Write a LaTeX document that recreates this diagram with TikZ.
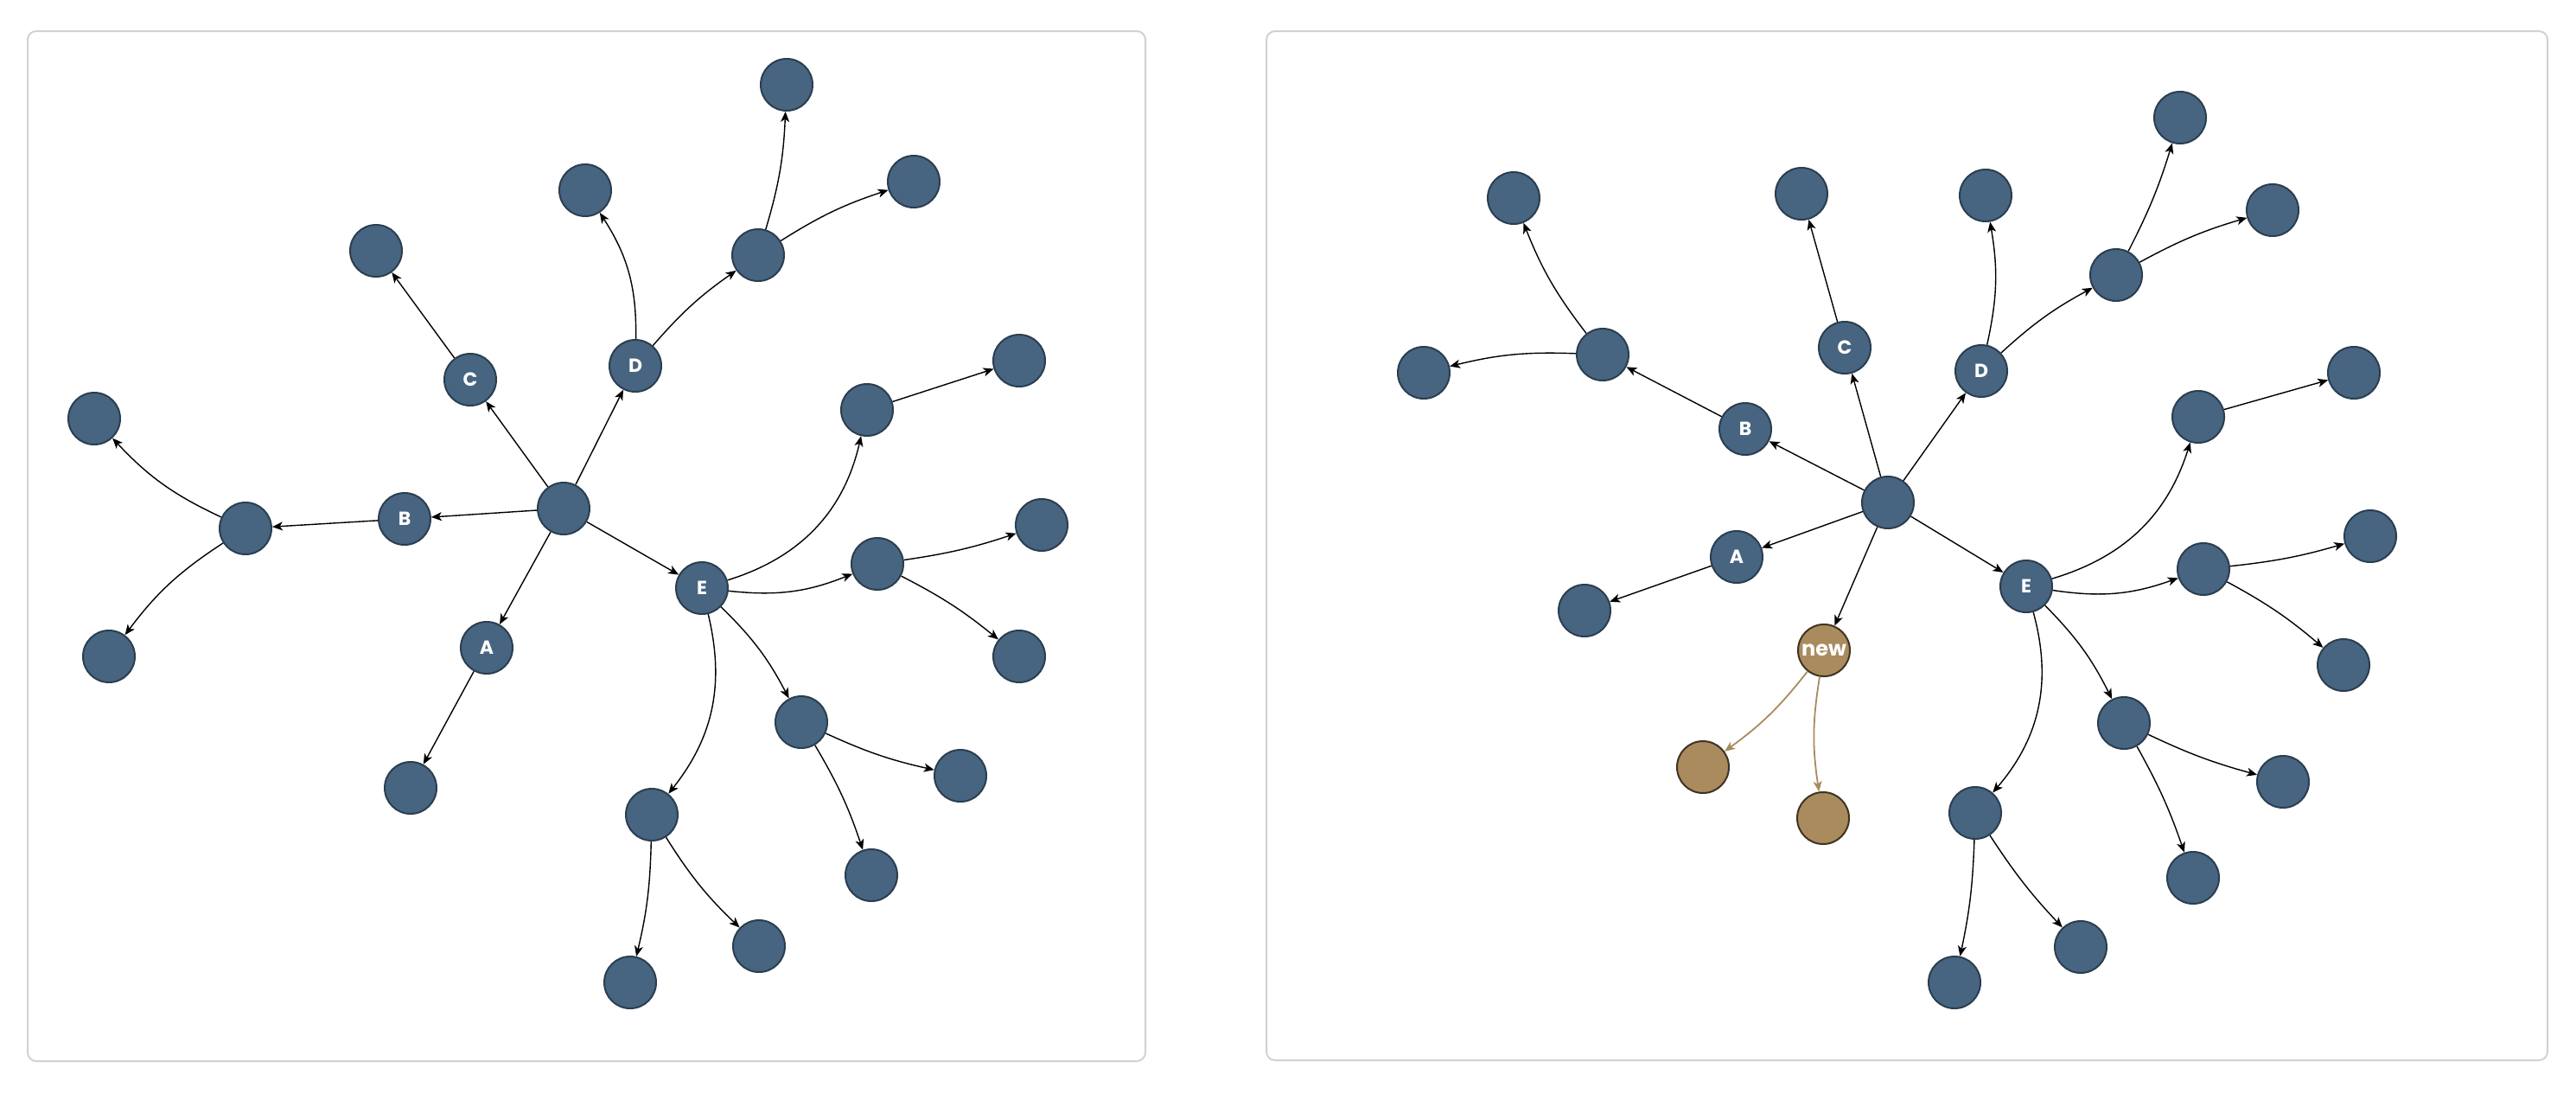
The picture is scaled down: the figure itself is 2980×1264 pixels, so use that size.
\documentclass[tikz,border=0pt]{standalone}
\usepackage{fontspec}
\setmainfont{Poppins}
\usetikzlibrary{arrows.meta}
\definecolor{nodefill}{HTML}{476580}
\definecolor{nodeline}{HTML}{2B3E50}
\definecolor{newfill}{HTML}{A98B5E}
\definecolor{newline}{HTML}{3F3323}
\definecolor{newedge}{HTML}{A98B5E}
\definecolor{panelline}{HTML}{D2D2D2}
\tikzset{
  vtx/.style={circle, fill=nodefill, draw=nodeline, line width=1pt, minimum size=30pt, inner sep=0pt,
    text=white, font=\fontsize{11}{13}\selectfont\bfseries},
  newvtx/.style={vtx, fill=newfill, draw=newline, font=\fontsize{12}{14}\selectfont\bfseries},
  edge/.style={draw=black, line width=0.7pt, -{Stealth[length=6pt,width=5pt,inset=1.6pt]}},
  newedgestyle/.style={draw=newedge, line width=0.9pt, -{Stealth[length=6pt,width=5pt,inset=1.6pt]}},
  panel/.style={draw=panelline, line width=1pt, rounded corners=5pt},
}
\begin{document}
\begin{tikzpicture}[x=0.5pt, y=-0.5pt]
\useasboundingbox (0,0) rectangle (2980,1264);
\draw[panel] (32,36) rectangle (1325,1227);
\draw[panel] (1465,36) rectangle (2947,1226);

% ---------- left panel ----------
\node[vtx] (L0) at (652,588) {};
\node[vtx] (LB) at (468,600) {B};
\node[vtx] (LC) at (544,439) {C};
\node[vtx] (LD) at (735,423) {D};
\node[vtx] (LA) at (563,749) {A};
\node[vtx] (LE) at (812,680) {E};
\node[vtx] (LB1) at (284,611) {};
\node[vtx] (LB1a) at (109,484) {};
\node[vtx] (LB1b) at (126,759) {};
\node[vtx] (LC1) at (435,290) {};
\node[vtx] (LD1) at (677,220) {};
\node[vtx] (LD2) at (877,295) {};
\node[vtx] (LD2a) at (910,98) {};
\node[vtx] (LD2b) at (1057,210) {};
\node[vtx] (LA1) at (475,911) {};
\node[vtx] (LE1) at (1003,474) {};
\node[vtx] (LE1a) at (1179,417) {};
\node[vtx] (LE2) at (1015,652) {};
\node[vtx] (LE2a) at (1205,607) {};
\node[vtx] (LE2b) at (1179,759) {};
\node[vtx] (LE3) at (927,835) {};
\node[vtx] (LE3a) at (1111,897) {};
\node[vtx] (LE3b) at (1008,1012) {};
\node[vtx] (LE4) at (754,942) {};
\node[vtx] (LE4a) at (729,1136) {};
\node[vtx] (LE4b) at (878,1094) {};

\draw[edge] (L0) -- (LB);
\draw[edge] (LB) -- (LB1);
\draw[edge] (LB1) to[bend left=11] (LB1a);
\draw[edge] (LB1) to[bend right=10] (LB1b);
\draw[edge] (L0) -- (LC);
\draw[edge] (LC) -- (LC1);
\draw[edge] (L0) -- (LD);
\draw[edge] (LD) to[bend right=17] (LD1);
\draw[edge] (LD) to[bend left=7] (LD2);
\draw[edge] (LD2) to[bend right=7] (LD2a);
\draw[edge] (LD2) to[bend left=7] (LD2b);
\draw[edge] (L0) -- (LA);
\draw[edge] (LA) -- (LA1);
\draw[edge] (L0) -- (LE);
\draw[edge] (LE) to[bend right=30] (LE1);
\draw[edge] (LE) to[bend right=14] (LE2);
\draw[edge] (LE) to[bend left=9] (LE3);
\draw[edge] (LE) to[bend left=26] (LE4);
\draw[edge] (LE1) -- (LE1a);
\draw[edge] (LE2) to[bend right=5] (LE2a);
\draw[edge] (LE2) to[bend left=6] (LE2b);
\draw[edge] (LE3) to[bend right=6] (LE3a);
\draw[edge] (LE3) to[bend left=6] (LE3b);
\draw[edge] (LE4) to[bend left=6] (LE4a);
\draw[edge] (LE4) to[bend right=7] (LE4b);

% ---------- right panel ----------
\node[vtx] (R0) at (2184,581) {};
\node[vtx] (RB) at (2019,496) {B};
\node[vtx] (RC) at (2134,402) {C};
\node[vtx] (RD) at (2292,429) {D};
\node[vtx] (RA) at (2009,644) {A};
\node[vtx] (RE) at (2344,678) {E};
\node[newvtx] (RN) at (2110,752) {new};
\node[newvtx] (RN1) at (1970,887) {};
\node[newvtx] (RN2) at (2109,946) {};
\node[vtx] (RB1) at (1854,410) {};
\node[vtx] (RB1a) at (1751,229) {};
\node[vtx] (RB1b) at (1647,431) {};
\node[vtx] (RC1) at (2084,224) {};
\node[vtx] (RA1) at (1833,706) {};
\node[vtx] (RD1) at (2297,226) {};
\node[vtx] (RD2) at (2448,318) {};
\node[vtx] (RD2a) at (2522,136) {};
\node[vtx] (RD2b) at (2629,243) {};
\node[vtx] (RE1) at (2543,482) {};
\node[vtx] (RE1a) at (2723,431) {};
\node[vtx] (RE2) at (2549,658) {};
\node[vtx] (RE2a) at (2742,620) {};
\node[vtx] (RE2b) at (2711,769) {};
\node[vtx] (RE3) at (2457,836) {};
\node[vtx] (RE3a) at (2641,904) {};
\node[vtx] (RE3b) at (2537,1015) {};
\node[vtx] (RE4) at (2285,940) {};
\node[vtx] (RE4a) at (2261,1136) {};
\node[vtx] (RE4b) at (2407,1095) {};

\draw[edge] (R0) -- (RB);
\draw[edge] (RB) -- (RB1);
\draw[edge] (RB1) to[bend left=8] (RB1a);
\draw[edge] (RB1) to[bend right=8] (RB1b);
\draw[edge] (R0) -- (RC);
\draw[edge] (RC) -- (RC1);
\draw[edge] (R0) -- (RA);
\draw[edge] (RA) -- (RA1);
\draw[edge] (R0) -- (RD);
\draw[edge] (RD) to[bend right=11] (RD1);
\draw[edge] (RD) to[bend left=7] (RD2);
\draw[edge] (RD2) to[bend right=5] (RD2a);
\draw[edge] (RD2) to[bend left=6] (RD2b);
\draw[edge] (R0) -- (RE);
\draw[edge] (RE) to[bend right=28] (RE1);
\draw[edge] (RE) to[bend right=14] (RE2);
\draw[edge] (RE) to[bend left=9] (RE3);
\draw[edge] (RE) to[bend left=28] (RE4);
\draw[edge] (RE1) -- (RE1a);
\draw[edge] (RE2) to[bend right=5] (RE2a);
\draw[edge] (RE2) to[bend left=6] (RE2b);
\draw[edge] (RE3) to[bend right=5] (RE3a);
\draw[edge] (RE3) to[bend left=5] (RE3b);
\draw[edge] (RE4) to[bend left=5] (RE4a);
\draw[edge] (RE4) to[bend right=5] (RE4b);
\draw[edge] (R0) -- (RN);
\draw[newedgestyle] (RN) to[bend left=8] (RN1);
\draw[newedgestyle] (RN) to[bend right=9] (RN2);
\end{tikzpicture}
\end{document}
